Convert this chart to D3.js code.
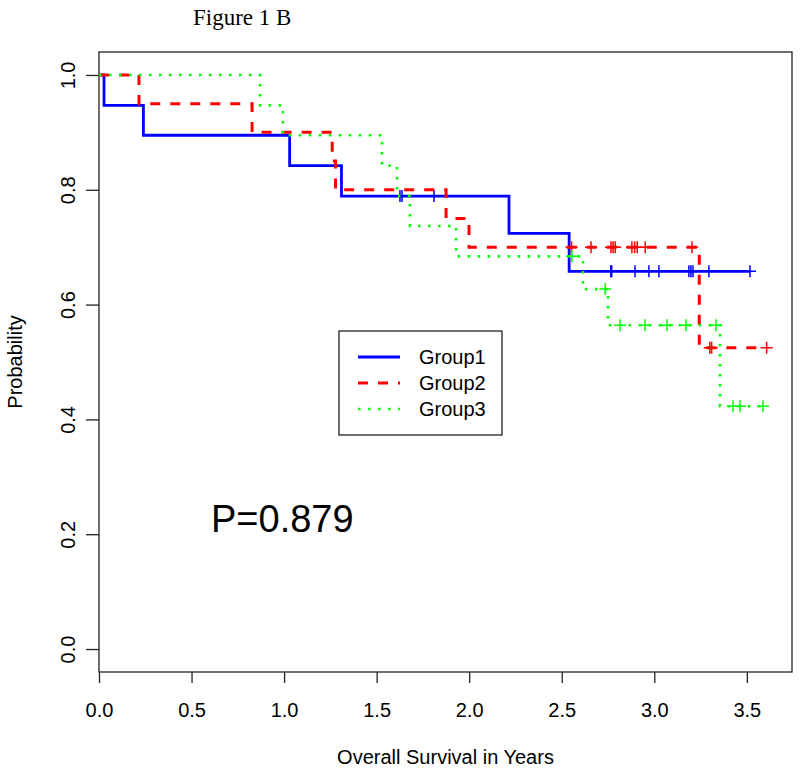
<!DOCTYPE html>
<html>
<head>
<meta charset="utf-8">
<script src="https://cdn.jsdelivr.net/npm/d3@7"></script>
<style>
  html, body { margin: 0; padding: 0; background: #fff; }
  svg { display: block; }
  text { font-family: "Liberation Sans", Arial, Helvetica, sans-serif; }
</style>
</head>
<body>
<div id="chart"></div>
<script>
// ---- data ----
const xTicks = [0, 0.5, 1.0, 1.5, 2.0, 2.5, 3.0, 3.5];
const yTicks = [0, 0.2, 0.4, 0.6, 0.8, 1.0];
const groupNames = ["Group1", "Group2", "Group3"];
const groupColors = ["#0000ff", "#ff0000", "#00ff00"];

// Group1: step times and survival values, censored times
const g1Times = [0, 0.027, 0.24, 1.03, 1.31, 2.215, 2.54];
const g1Surv  = [1, 0.947, 0.895, 0.842, 0.789, 0.724, 0.658];
const g1Censor = [1.626, 1.637, 1.81, 2.765, 2.77, 2.896, 2.971, 3.025, 3.187, 3.198, 3.209, 3.295, 3.517];

// Group2
const g2Times = [0, 0.216, 0.827, 1.26, 1.278, 1.875, 1.999, 3.243];
const g2Surv  = [1, 0.95, 0.90, 0.85, 0.80, 0.75, 0.70, 0.525];
const g2Censor = [2.553, 2.658, 2.766, 2.777, 2.789, 2.879, 2.894, 2.908, 2.951, 3.204, 3.30, 3.31, 3.607];

// Group3
const g3Times = [0, 0.87, 0.994, 1.529, 1.61, 1.68, 1.929, 2.615, 2.75, 3.355];
const g3Surv  = [1, 0.947, 0.895, 0.842, 0.789, 0.737, 0.684, 0.627, 0.564, 0.423];
const g3Censor = [2.555, 2.735, 2.815, 2.95, 3.069, 3.171, 3.333, 3.425, 3.463, 3.587];

const pValueLabel = "P=0.879";
const titleLabel = "Figure 1 B";
const xLabel = "Overall Survival in Years";
const yLabel = "Probability";

// ---- layout ----
const W = 800, H = 771;
const box = { left: 99, right: 792, top: 52, bottom: 672 };

const svg = d3.select("#chart").append("svg")
  .attr("width", W).attr("height", H);

const x = d3.scaleLinear().domain([0, 3.744]).range([box.left, box.right]);
const y = d3.scaleLinear().domain([-0.04, 1.04]).range([box.bottom, box.top]);

// title
svg.append("text")
  .attr("x", 193).attr("y", 25)
  .style("font-family", "'Liberation Serif', 'Times New Roman', serif")
  .style("font-size", "23px")
  .text(titleLabel);

// box
svg.append("rect")
  .attr("x", box.left).attr("y", box.top)
  .attr("width", box.right - box.left).attr("height", box.bottom - box.top)
  .attr("fill", "none").attr("stroke", "#222").attr("stroke-width", 1.3);

// x axis
const xAxis = svg.append("g")
  .attr("transform", `translate(0,${box.bottom})`)
  .call(d3.axisBottom(x).tickValues(xTicks).tickFormat(d3.format(".1f")).tickSize(11).tickSizeOuter(0));
xAxis.select(".domain").remove();
xAxis.selectAll(".tick line").attr("stroke", "#222").attr("stroke-width", 1.3);
xAxis.selectAll(".tick text")
  .attr("y", 45).attr("dy", null)
  .style("font-size", "20px").attr("fill", "#000");

// y axis
const yAxis = svg.append("g")
  .attr("transform", `translate(${box.left},0)`)
  .call(d3.axisLeft(y).tickValues(yTicks).tickFormat(d3.format(".1f")).tickSize(13).tickSizeOuter(0));
yAxis.select(".domain").remove();
yAxis.selectAll(".tick line").attr("stroke", "#222").attr("stroke-width", 1.3);
yAxis.selectAll(".tick text")
  .attr("x", null).attr("dy", null)
  .attr("text-anchor", "middle")
  .attr("transform", "translate(-24,0) rotate(-90)")
  .style("font-size", "20px").attr("fill", "#000");

// axis titles
svg.append("text")
  .attr("x", (box.left + box.right) / 2).attr("y", 764)
  .attr("text-anchor", "middle").style("font-size", "20px")
  .text(xLabel);
svg.append("text")
  .attr("transform", `translate(22,${(box.top + box.bottom) / 2}) rotate(-90)`)
  .attr("text-anchor", "middle").style("font-size", "20px")
  .text(yLabel);

// ---- curves ----
const groups = [
  { times: g1Times, surv: g1Surv, censor: g1Censor, color: groupColors[0], dash: null, width: 2.8 },
  { times: g2Times, surv: g2Surv, censor: g2Censor, color: groupColors[1], dash: "10,10", width: 3 },
  { times: g3Times, surv: g3Surv, censor: g3Censor, color: groupColors[2], dash: "2.5,7.5", width: 2.6 }
];

const line = d3.line().x(d => x(d[0])).y(d => y(d[1])).curve(d3.curveStepAfter);

function survAt(times, surv, t) {
  let s = surv[0];
  for (let i = 0; i < times.length; i++) if (times[i] <= t) s = surv[i];
  return s;
}

groups.forEach(gr => {
  const pts = gr.times.map((t, i) => [t, gr.surv[i]]);
  const tEnd = d3.max(gr.censor.concat(gr.times));
  pts.push([tEnd, survAt(gr.times, gr.surv, tEnd)]);
  svg.append("path")
    .attr("d", line(pts))
    .attr("fill", "none")
    .attr("stroke", gr.color)
    .attr("stroke-width", gr.width)
    .attr("stroke-dasharray", gr.dash);

  const marks = svg.append("g");
  gr.censor.forEach(t => {
    const cx = x(t), cy = y(survAt(gr.times, gr.surv, t));
    marks.append("path")
      .attr("d", `M${cx - 6},${cy}H${cx + 6}M${cx},${cy - 6}V${cy + 6}`)
      .attr("stroke", gr.color).attr("stroke-width", 1.5).attr("fill", "none");
  });
});

// ---- legend ----
const lg = { x0: 339, y0: 331, x1: 502, y1: 435 };
svg.append("rect")
  .attr("x", lg.x0).attr("y", lg.y0)
  .attr("width", lg.x1 - lg.x0).attr("height", lg.y1 - lg.y0)
  .attr("fill", "#fff").attr("stroke", "#222").attr("stroke-width", 1.3);
groupNames.forEach((name, i) => {
  const gy = 357 + i * 26;
  svg.append("line")
    .attr("x1", 358).attr("x2", 400).attr("y1", gy).attr("y2", gy)
    .attr("stroke", groups[i].color).attr("stroke-width", groups[i].width)
    .attr("stroke-dasharray", groups[i].dash);
  svg.append("text")
    .attr("x", 419).attr("y", gy + 7)
    .style("font-size", "20px")
    .text(name);
});

// p-value
svg.append("text")
  .attr("x", 211).attr("y", 532)
  .style("font-size", "38px")
  .text(pValueLabel);
</script>
</body>
</html>
